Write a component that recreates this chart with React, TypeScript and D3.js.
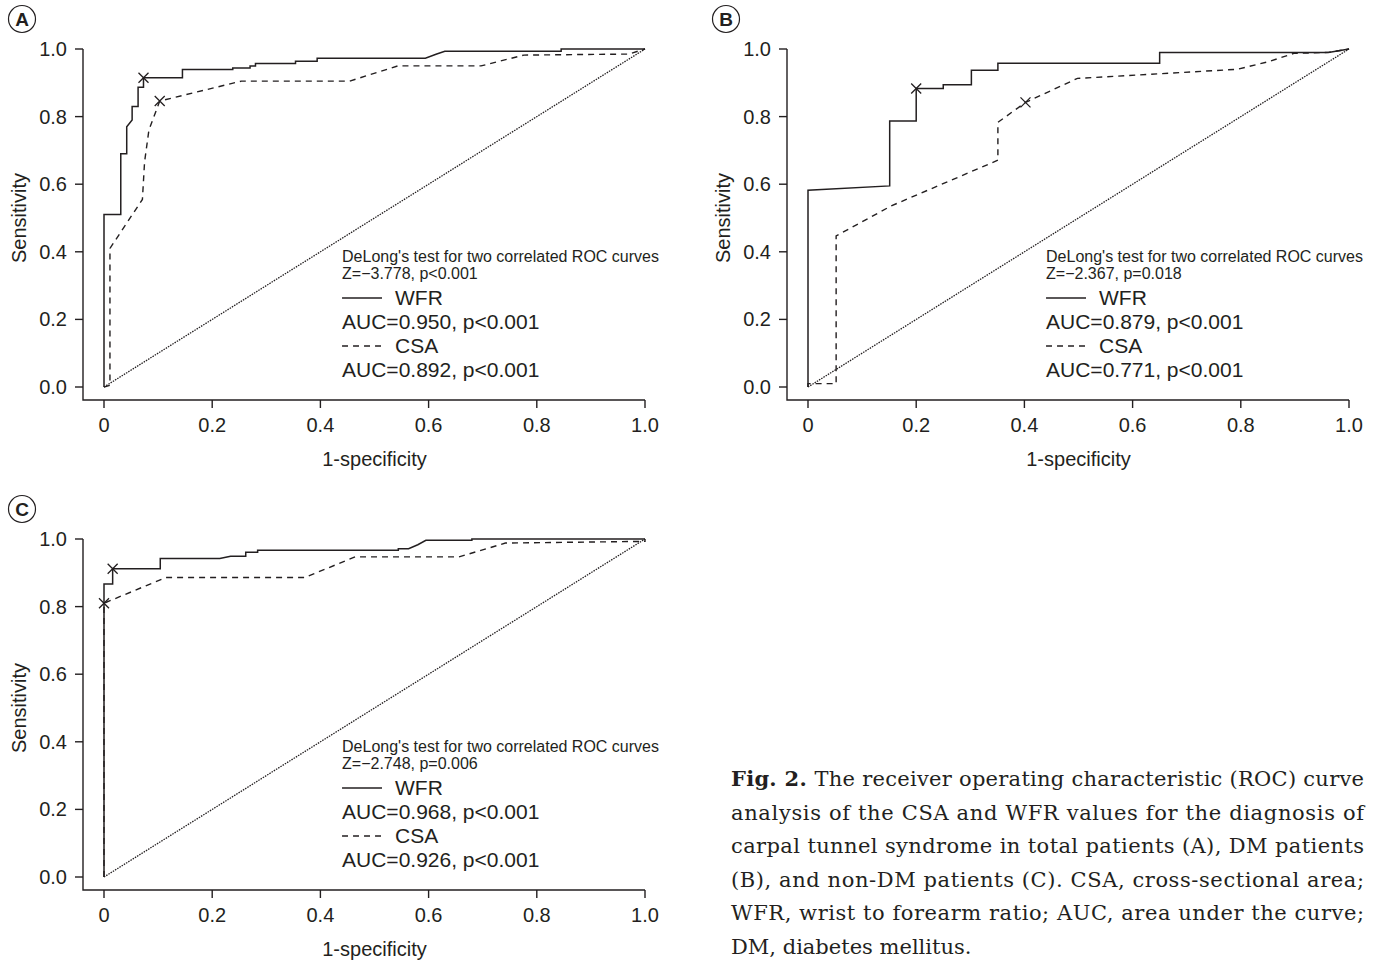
import React from "react";
import * as d3 from "d3";

// ROC curves (fpr = 1-specificity, tpr = sensitivity)
const aWfrFpr = [0, 0, 0.031, 0.031, 0.042, 0.042, 0.052, 0.052, 0.063, 0.063, 0.073, 0.073, 0.145, 0.145, 0.238, 0.238, 0.27, 0.27, 0.28, 0.28, 0.354, 0.354, 0.394, 0.394, 0.594, 0.615, 0.63, 0.845, 0.845, 1];
const aWfrTpr = [0, 0.51, 0.51, 0.69, 0.69, 0.77, 0.79, 0.83, 0.83, 0.887, 0.887, 0.915, 0.915, 0.939, 0.939, 0.944, 0.944, 0.95, 0.95, 0.957, 0.957, 0.964, 0.964, 0.973, 0.973, 0.985, 0.993, 0.993, 1, 1];
const aCsaFpr = [0, 0.011, 0.011, 0.071, 0.075, 0.083, 0.103, 0.254, 0.454, 0.543, 0.697, 0.776, 0.97, 1];
const aCsaTpr = [0, 0.005, 0.41, 0.555, 0.666, 0.76, 0.846, 0.905, 0.905, 0.95, 0.95, 0.982, 0.985, 1];
const aCut = [[0.073, 0.915], [0.103, 0.846]];

const bWfrFpr = [0, 0, 0.151, 0.151, 0.2, 0.2, 0.25, 0.25, 0.302, 0.302, 0.351, 0.351, 0.65, 0.65, 0.962, 1];
const bWfrTpr = [0, 0.582, 0.595, 0.787, 0.787, 0.883, 0.883, 0.894, 0.894, 0.937, 0.937, 0.958, 0.958, 0.99, 0.99, 1];
const bCsaFpr = [0, 0, 0.052, 0.052, 0.154, 0.351, 0.351, 0.402, 0.498, 0.794, 0.85, 0.898, 0.962, 1];
const bCsaTpr = [0, 0.01, 0.01, 0.447, 0.536, 0.671, 0.783, 0.842, 0.913, 0.94, 0.962, 0.987, 0.99, 1];
const bCut = [[0.2, 0.883], [0.402, 0.842]];

const cWfrFpr = [0, 0, 0.016, 0.016, 0.104, 0.104, 0.214, 0.234, 0.262, 0.262, 0.284, 0.284, 0.544, 0.544, 0.563, 0.58, 0.595, 0.68, 0.68, 1];
const cWfrTpr = [0, 0.867, 0.867, 0.912, 0.912, 0.942, 0.942, 0.949, 0.949, 0.961, 0.961, 0.967, 0.967, 0.971, 0.971, 0.983, 0.996, 0.996, 1, 1];
const cCsaFpr = [0, 0, 0.114, 0.371, 0.464, 0.656, 0.742, 1, 1];
const cCsaTpr = [0, 0.81, 0.886, 0.886, 0.947, 0.947, 0.988, 0.993, 1];
const cCut = [[0.016, 0.912], [0, 0.81]];

const xTicks = [0, 0.2, 0.4, 0.6, 0.8, 1.0];
const xTickLabels = ["0", "0.2", "0.4", "0.6", "0.8", "1.0"];
const yTicks = [0, 0.2, 0.4, 0.6, 0.8, 1.0];
const yTickLabels = ["0.0", "0.2", "0.4", "0.6", "0.8", "1.0"];

const testTitle = "DeLong's test for two correlated ROC curves";
const zLines = ["Z=\u22123.778, p<0.001", "Z=\u22122.367, p=0.018", "Z=\u22122.748, p=0.006"];
const wfrAuc = ["AUC=0.950, p<0.001", "AUC=0.879, p<0.001", "AUC=0.968, p<0.001"];
const csaAuc = ["AUC=0.892, p<0.001", "AUC=0.771, p<0.001", "AUC=0.926, p<0.001"];
const panelLetters = ["A", "B", "C"];

const captionLines = [
  "The receiver operating characteristic (ROC) curve",
  "analysis of the CSA and WFR values for the diagnosis of",
  "carpal tunnel syndrome in total patients (A), DM patients",
  "(B), and non-DM patients (C). CSA, cross-sectional area;",
  "WFR, wrist to forearm ratio; AUC, area under the curve;",
  "DM, diabetes mellitus.",
];

const SANS = "'Liberation Sans', Arial, Helvetica, sans-serif";
const INK = "#231f20";

type PanelProps = {
  idx: number;
  left: number;
  top: number;
  wfr: [number[], number[]];
  csa: [number[], number[]];
  cuts: number[][];
};

const Cross = ({ x, y }: { x: number; y: number }) => (
  <path d={`M${x - 5},${y - 5}L${x + 5},${y + 5}M${x - 5},${y + 5}L${x + 5},${y - 5}`} stroke={INK} strokeWidth={1.3} />
);

const RocPanel = ({ idx, left, top, wfr, csa, cuts }: PanelProps) => {
  const x = d3.scaleLinear().domain([0, 1]).range([left, left + 541]);
  const y = d3.scaleLinear().domain([0, 1]).range([top + 338, top]);
  const ln = d3.line<[number, number]>().x((d) => x(d[0])).y((d) => y(d[1]));
  const zip = (a: number[], b: number[]) => a.map((v, i) => [v, b[i]] as [number, number]);
  const axisX = left - 21;
  const axisY = y(0) + 13;
  const lx = x(0.44);
  const ly = y(0.37);

  return (
    <g>
      <circle cx={left - 82} cy={top - 30} r={13.5} fill="none" stroke={INK} strokeWidth={1.2} />
      <text x={left - 82} y={top - 23.5} textAnchor="middle" fontFamily={SANS} fontWeight="bold" fontSize={19} fill={INK}>
        {panelLetters[idx]}
      </text>

      {/* axes, R style L box */}
      <path d={`M${axisX},${y(1)}V${axisY}H${x(1)}`} fill="none" stroke={INK} strokeWidth={1.4} />
      {yTicks.map((t, i) => (
        <g key={"y" + i}>
          <line x1={axisX - 8} x2={axisX} y1={y(t)} y2={y(t)} stroke={INK} strokeWidth={1.4} />
          <text x={axisX - 16} y={y(t) + 7} textAnchor="end" fontFamily={SANS} fontSize={20} fill={INK}>
            {yTickLabels[i]}
          </text>
        </g>
      ))}
      {xTicks.map((t, i) => (
        <g key={"x" + i}>
          <line x1={x(t)} x2={x(t)} y1={axisY} y2={axisY + 8} stroke={INK} strokeWidth={1.4} />
          <text x={x(t)} y={axisY + 32} textAnchor="middle" fontFamily={SANS} fontSize={20} fill={INK}>
            {xTickLabels[i]}
          </text>
        </g>
      ))}
      <text x={x(0.5)} y={axisY + 66} textAnchor="middle" fontFamily={SANS} fontSize={20} fill={INK}>
        1-specificity
      </text>
      <text transform={`translate(${left - 78},${y(0.5)}) rotate(-90)`} textAnchor="middle" fontFamily={SANS} fontSize={20} fill={INK}>
        Sensitivity
      </text>

      {/* chance line */}
      <path d={ln([[0, 0], [1, 1]]) || ""} fill="none" stroke={INK} strokeWidth={1.3} strokeDasharray="1.5,1.1" />
      <path d={ln(zip(csa[0], csa[1])) || ""} fill="none" stroke={INK} strokeWidth={1.4} strokeDasharray="6,5" />
      <path d={ln(zip(wfr[0], wfr[1])) || ""} fill="none" stroke={INK} strokeWidth={1.5} />
      {cuts.map((c, i) => (
        <Cross key={"c" + i} x={x(c[0])} y={y(c[1])} />
      ))}

      {/* legend */}
      <g fontFamily={SANS} fill={INK}>
        <text x={lx} y={ly} fontSize={16}>{testTitle}</text>
        <text x={lx} y={ly + 17} fontSize={16}>{zLines[idx]}</text>
        <line x1={lx} x2={lx + 40} y1={ly + 36} y2={ly + 36} stroke={INK} strokeWidth={1.4} />
        <text x={lx + 53} y={ly + 43} fontSize={21}>WFR</text>
        <text x={lx} y={ly + 67} fontSize={21}>{wfrAuc[idx]}</text>
        <line x1={lx} x2={lx + 40} y1={ly + 84} y2={ly + 84} stroke={INK} strokeWidth={1.4} strokeDasharray="6,5" />
        <text x={lx + 53} y={ly + 91} fontSize={21}>CSA</text>
        <text x={lx} y={ly + 115} fontSize={21}>{csaAuc[idx]}</text>
      </g>
    </g>
  );
};

const Caption = () => {
  const left = 731;
  const width = 633;
  const base = 786;
  const step = 33.5;
  return (
    <g fontFamily="'DejaVu Serif', 'Liberation Serif', serif" fontSize={21} fill={INK}>
      {captionLines.map((line, i) => {
        const last = i === captionLines.length - 1;
        return (
          <text
            key={i}
            x={left}
            y={base + i * step}
            textLength={last ? undefined : width}
            lengthAdjust="spacing"
          >
            {i === 0 && <tspan fontWeight="bold">Fig. 2. </tspan>}
            <tspan>{line}</tspan>
          </text>
        );
      })}
    </g>
  );
};

export default function App() {
  return (
    <svg
      width={1379}
      height={960}
      viewBox="0 0 1379 960"
      style={{ position: "absolute", left: 0, top: 0, background: "#fff", display: "block" }}
    >
      <RocPanel idx={0} left={104} top={49} wfr={[aWfrFpr, aWfrTpr]} csa={[aCsaFpr, aCsaTpr]} cuts={aCut} />
      <RocPanel idx={1} left={808} top={49} wfr={[bWfrFpr, bWfrTpr]} csa={[bCsaFpr, bCsaTpr]} cuts={bCut} />
      <RocPanel idx={2} left={104} top={539} wfr={[cWfrFpr, cWfrTpr]} csa={[cCsaFpr, cCsaTpr]} cuts={cCut} />
      <Caption />
    </svg>
  );
}
